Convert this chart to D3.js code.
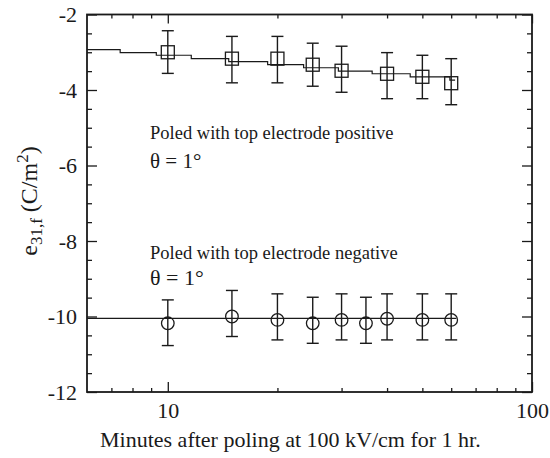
<!DOCTYPE html>
<html>
<head>
<meta charset="utf-8">
<script src="https://cdn.jsdelivr.net/npm/d3@7"></script>
<style>
    body { margin: 0; background: #fff; }
</style>
</head>
<body>
<svg id="chart" width="550" height="458"></svg>
<script>
// values (minutes, e31,f in C/m^2)
const posMinutes = [10, 15, 20, 25, 30, 40, 50, 60];
const posE31 = [-3.00, -3.17, -3.17, -3.33, -3.49, -3.57, -3.65, -3.82];
const posErrHigh = [-2.43, -2.58, -2.58, -2.76, -2.84, -3.01, -3.08, -3.17];
const posErrLow = [-3.56, -3.81, -3.81, -3.90, -4.06, -4.23, -4.23, -4.39];

// stepped fit line through the positive-poled points
const posFitMinutes = [6, 7.4, 9.3, 11.6, 14.7, 18.8, 23.6, 29.4, 36.4, 46.3, 59.5, 61.5];
const posFitE31 = [-2.93, -3.01, -3.08, -3.17, -3.25, -3.33, -3.41, -3.50, -3.57, -3.65, -3.74, -3.74];

const negMinutes = [10, 15, 20, 25, 30, 35, 40, 50, 60];
const negE31 = [-10.18, -10.00, -10.09, -10.18, -10.09, -10.18, -10.06, -10.09, -10.09];
const negErrHigh = [-9.56, -9.31, -9.40, -9.49, -9.40, -9.49, -9.40, -9.40, -9.40];
const negErrLow = [-10.77, -10.53, -10.62, -10.71, -10.62, -10.71, -10.62, -10.62, -10.62];

const negFitMinutes = [6, 62];
const negFitE31 = [-10.05, -10.05];

const xMajorTicks = [10, 100];
const xMinorTicks = [7, 8, 9, 20, 30, 40, 50, 60, 70, 80, 90];
const yMajorTicks = [-2, -4, -6, -8, -10, -12];

const width = 550, height = 458;
const margin = {top: 14.5, right: 18, bottom: 66, left: 87};
const w = width - margin.left - margin.right;
const h = height - margin.top - margin.bottom;
const ink = "#1a1a1a";
const serif = "'Liberation Serif', 'DejaVu Serif', serif";

const svg = d3.select("#chart").attr("font-family", serif);
const g = svg.append("g").attr("transform", `translate(${margin.left},${margin.top})`);

const x = d3.scaleLog().domain([6, 100]).range([0, w]);
const y = d3.scaleLinear().domain([-12, -2]).range([h, 0]);

const yMinorTicks = d3.range(-12, -2, 0.5).filter(v => v % 2 !== 0);

// ticks all point inward, on all four sides
function addAxis(axis, transform, showLabels) {
    const a = g.append("g").attr("transform", transform).call(axis);
    a.attr("font-family", serif);
    a.select(".domain").remove();
    a.selectAll("line").attr("stroke", ink).attr("stroke-width", 1.3);
    a.selectAll("text").attr("font-size", 22).attr("fill", ink).attr("font-family", serif);
    if (!showLabels) a.selectAll("text").remove();
    return a;
}

addAxis(d3.axisBottom(x).tickValues(xMajorTicks).tickSize(-10).tickPadding(10).tickFormat(d3.format("d")), `translate(0,${h})`, true);
addAxis(d3.axisBottom(x).tickValues(xMinorTicks).tickSize(-4), `translate(0,${h})`, false);
addAxis(d3.axisTop(x).tickValues(xMajorTicks).tickSize(-9), "", false);
addAxis(d3.axisTop(x).tickValues(xMinorTicks).tickSize(-4), "", false);

addAxis(d3.axisLeft(y).tickValues(yMajorTicks).tickSize(-10).tickPadding(10).tickFormat(d => String(d)), "", true);
addAxis(d3.axisLeft(y).tickValues(yMinorTicks).tickSize(-5), "", false);
addAxis(d3.axisRight(y).tickValues(yMajorTicks).tickSize(-10), `translate(${w},0)`, false);
addAxis(d3.axisRight(y).tickValues(yMinorTicks).tickSize(-5), `translate(${w},0)`, false);

g.append("rect")
    .attr("width", w).attr("height", h)
    .attr("fill", "none").attr("stroke", ink).attr("stroke-width", 1.8);

// fit lines
const posFit = posFitMinutes.map((m, i) => [m, posFitE31[i]]);
const negFit = negFitMinutes.map((m, i) => [m, negFitE31[i]]);

g.append("path")
    .datum(posFit)
    .attr("fill", "none").attr("stroke", ink).attr("stroke-width", 1.2)
    .attr("d", d3.line().x(d => x(d[0])).y(d => y(d[1])).curve(d3.curveStepAfter));

g.append("path")
    .datum(negFit)
    .attr("fill", "none").attr("stroke", ink).attr("stroke-width", 1.2)
    .attr("d", d3.line().x(d => x(d[0])).y(d => y(d[1])));

function errorBars(minutes, hi, lo) {
    const rows = minutes.map((m, i) => ({m: m, hi: hi[i], lo: lo[i]}));
    const eb = g.append("g").attr("stroke", ink).attr("stroke-width", 1.4).attr("fill", "none");
    eb.selectAll("line.v").data(rows).enter().append("line").attr("class", "v")
        .attr("x1", d => x(d.m)).attr("x2", d => x(d.m))
        .attr("y1", d => y(d.hi)).attr("y2", d => y(d.lo));
    eb.selectAll("line.top").data(rows).enter().append("line").attr("class", "top")
        .attr("x1", d => x(d.m) - 6).attr("x2", d => x(d.m) + 6)
        .attr("y1", d => y(d.hi)).attr("y2", d => y(d.hi));
    eb.selectAll("line.bot").data(rows).enter().append("line").attr("class", "bot")
        .attr("x1", d => x(d.m) - 6).attr("x2", d => x(d.m) + 6)
        .attr("y1", d => y(d.lo)).attr("y2", d => y(d.lo));
}

errorBars(posMinutes, posErrHigh, posErrLow);
errorBars(negMinutes, negErrHigh, negErrLow);

g.append("g").selectAll("rect")
    .data(posMinutes.map((m, i) => [m, posE31[i]]))
    .enter().append("rect")
    .attr("x", d => x(d[0]) - 6.5).attr("y", d => y(d[1]) - 6.5)
    .attr("width", 13).attr("height", 13)
    .attr("fill", "none").attr("stroke", ink).attr("stroke-width", 1.3);

g.append("g").selectAll("circle")
    .data(negMinutes.map((m, i) => [m, negE31[i]]))
    .enter().append("circle")
    .attr("cx", d => x(d[0])).attr("cy", d => y(d[1])).attr("r", 6.3)
    .attr("fill", "none").attr("stroke", ink).attr("stroke-width", 1.3);

// annotations
function note(xp, yp, size, str) {
    svg.append("text").attr("x", xp).attr("y", yp)
        .attr("font-size", size).attr("fill", ink).attr("font-family", serif)
        .text(str);
}
note(150, 139, 18.5, "Poled with top electrode positive");
note(150, 168, 21, "θ = 1°");
note(150, 259, 18.5, "Poled with top electrode negative");
note(150, 285, 22, "θ = 1°");

// axis titles
svg.append("text")
    .attr("x", 100).attr("y", 447)
    .attr("font-size", 22)
    .attr("fill", ink).attr("font-family", serif)
    .text("Minutes after poling at 100 kV/cm for 1 hr.");

const yTitle = svg.append("text")
    .attr("transform", "translate(37,201) rotate(-90)")
    .attr("text-anchor", "middle").attr("font-size", 24)
    .attr("fill", ink).attr("font-family", serif);
yTitle.append("tspan").text("e");
yTitle.append("tspan").attr("font-size", 17).attr("dy", 5).text("31,f");
yTitle.append("tspan").attr("dy", -5).text(" (C/m");
yTitle.append("tspan").attr("font-size", 17).attr("dy", -9).text("2");
yTitle.append("tspan").attr("dy", 9).text(")");
</script>
</body>
</html>
